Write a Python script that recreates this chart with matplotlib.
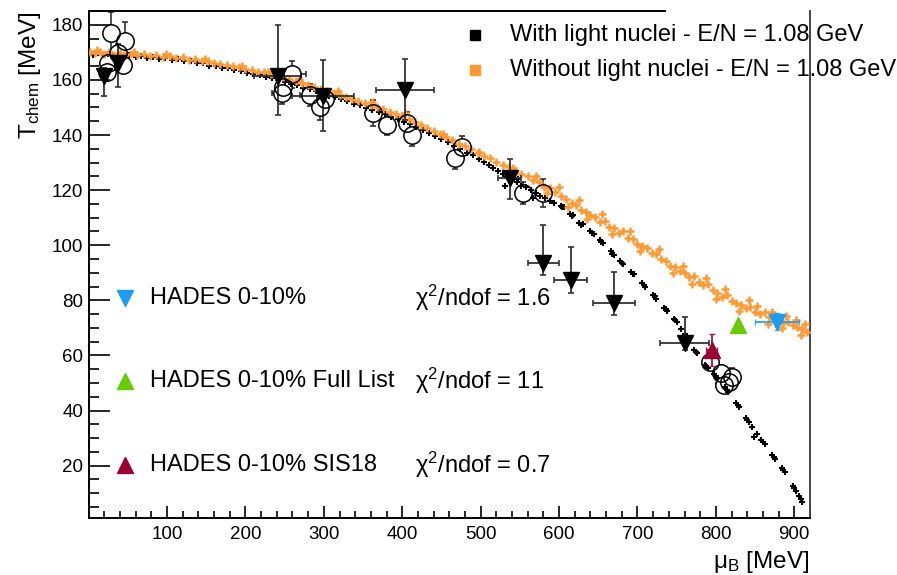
import matplotlib
matplotlib.use("Agg")
import matplotlib.pyplot as plt
from matplotlib.ticker import MultipleLocator

plt.rcParams["font.family"] = ["Liberation Sans", "DejaVu Sans"]
plt.rcParams["mathtext.fontset"] = "custom"
plt.rcParams["mathtext.rm"] = "Liberation Sans"
plt.rcParams["mathtext.it"] = "Liberation Sans:italic"

# freeze-out points without light nuclei (mu_B, T)
without_mu = [2, 8, 14, 20, 26, 33, 40, 47, 54, 62, 70, 78, 86, 95, 104, 112, 120, 128,
              136, 144, 152, 160, 168, 176, 184, 192, 200, 208, 216, 224, 232, 240, 248,
              256, 264, 272, 280, 288, 296, 304, 312, 320, 328, 336, 344, 352, 360, 368,
              376, 384, 392, 400, 408, 416, 424, 432, 440, 448, 456, 464, 472, 480, 488,
              496, 504, 512, 520, 528, 536, 544, 552, 560, 567, 574, 581, 588, 595, 602,
              609, 616, 622, 628, 634, 640, 646, 652, 658, 664, 670, 676, 682, 688, 694,
              700, 706, 712, 718, 724, 730, 736, 742, 748, 754, 760, 766, 772, 778, 784,
              790, 796, 802, 808, 814, 820, 826, 832, 838, 844, 850, 856, 862, 868, 874,
              880, 886, 892, 898, 904, 910, 916,
              570, 585, 600, 612, 625, 636, 655, 668, 690, 703, 727, 745, 758, 770, 788,
              800, 812, 829, 842, 853, 866, 872, 884, 890, 902, 908, 914,
              11, 58, 99, 148, 196, 229, 268, 318, 361, 404, 452, 498, 541]
without_T = [170.3, 169.6, 170.1, 169.4, 170.0, 169.2, 169.8, 169.1, 169.5, 168.9, 169.3,
             168.6, 169.0, 168.3, 168.7, 167.9, 168.2, 167.4, 167.6, 166.8, 166.9, 166.0,
             165.9, 165.3, 164.9, 164.6, 164.0, 163.6, 163.0, 162.7, 162.0, 161.4, 160.9,
             160.2, 159.5, 158.8, 158.1, 157.5, 156.6, 156.0, 155.2, 154.6, 153.8, 153.2,
             152.3, 151.7, 150.9, 150.2, 149.3, 148.5, 147.6, 146.8, 145.7, 144.9, 143.7,
             142.6, 141.6, 140.3, 139.2, 138.3, 136.9, 136.0, 134.9, 133.6, 132.4, 131.5,
             130.1, 129.0, 128.3, 126.9, 126.0, 125.2, 123.6, 122.9, 121.3, 120.6, 119.3,
             117.9, 116.9, 115.2, 114.6, 112.8, 112.2, 110.9, 110.1, 108.3, 108.9, 106.8,
             106.2, 104.6, 105.1, 102.8, 102.1, 100.6, 99.7, 98.9, 97.3, 96.8, 95.0, 94.4,
             92.6, 92.1, 90.8, 89.9, 88.4, 88.9, 86.7, 85.5, 85.9, 83.6, 82.8, 81.2, 81.9,
             79.7, 79.0, 78.2, 77.1, 77.6, 75.9, 75.0, 75.6, 73.9, 73.2, 72.8, 71.6, 72.3,
             70.9, 70.2, 69.5, 68.6,
             125.0, 118.8, 121.0, 114.0, 116.4, 109.6, 111.5, 103.9, 105.2, 97.8, 98.6,
             89.9, 92.6, 86.1, 88.0, 80.4, 84.1, 76.3, 80.0, 78.1, 71.5, 75.8, 69.9, 74.2,
             72.8, 67.3, 71.4,
             170.9, 170.0, 169.4, 167.7, 164.9, 163.0, 160.5, 156.1, 152.0, 147.9, 140.5,
             133.8, 128.0]

# freeze-out points with light nuclei (mu_B, T)
with_mu = [0, 6, 12, 18, 25, 31, 38, 45, 52, 60, 67, 74, 82, 90, 98, 106, 114, 122, 130,
           138, 146, 154, 162, 170, 178, 186, 194, 202, 210, 218, 226, 234, 242, 250, 258,
           266, 274, 282, 290, 298, 306, 314, 322, 330, 338, 346, 354, 362, 370, 378, 386,
           394, 402, 410, 418, 426, 434, 442, 450, 458, 466, 474, 482, 490,
           498, 504, 510, 516, 522, 528, 534, 540, 546, 552, 558, 564, 570, 576, 582, 588,
           594, 531, 548, 567,
           602, 604, 606, 614, 616, 618, 626, 628, 630, 640, 642, 644, 652, 654, 656, 666,
           668, 670, 678, 680, 682, 692, 694, 696, 706, 708, 710, 720, 722, 724, 734, 736,
           738, 746, 748, 750, 756, 760, 764, 772, 774, 776, 786, 788, 790, 798, 800, 802,
           812, 814, 816, 826, 828, 830, 838, 840, 842, 846, 848, 852, 858, 860, 862, 872,
           874, 876, 884, 886, 888, 898, 900, 902, 906, 908, 910]
with_T = [169.8, 169.2, 169.6, 168.9, 169.4, 168.7, 169.1, 168.5, 168.9, 168.3, 168.7,
          168.0, 168.4, 167.7, 168.0, 167.2, 167.5, 166.7, 166.8, 166.0, 166.1, 165.2,
          165.1, 164.4, 164.2, 163.5, 163.1, 162.6, 162.1, 161.7, 160.9, 160.6, 159.8,
          159.4, 158.6, 158.0, 157.2, 156.7, 155.8, 155.2, 154.3, 153.8, 152.9, 152.3,
          151.4, 150.8, 149.9, 149.2, 148.3, 147.6, 146.5, 145.9, 144.8, 144.0, 142.9,
          142.0, 140.6, 139.7, 138.4, 137.5, 136.0, 135.1, 133.6, 132.6,
          131.4, 130.2, 129.1, 128.0, 127.1, 125.7, 124.9, 123.8, 122.9, 121.6, 121.0,
          119.9, 118.9, 118.0, 117.2, 116.0, 115.2, 121.5, 124.2, 117.0,
          114.4, 113.7, 113.9, 111.2, 110.5, 110.9, 108.1, 107.4, 107.8, 105.2, 104.5,
          104.0, 101.8, 101.2, 100.9, 97.8, 97.0, 96.6, 94.2, 93.7, 93.1, 90.2, 89.6,
          89.4, 86.2, 85.6, 85.0, 81.9, 81.5, 80.6, 77.4, 76.8, 76.1, 73.4, 72.7, 72.1,
          69.6, 67.9, 66.5, 62.1, 61.4, 60.8, 56.7, 56.1, 55.6, 53.1, 52.4, 51.7, 48.4,
          47.6, 46.9, 42.6, 41.9, 41.3, 37.2, 36.4, 35.8, 34.0, 30.5, 31.6, 29.3, 28.5,
          27.7, 23.9, 23.0, 22.4, 19.0, 18.3, 17.6, 12.6, 11.8, 10.9, 8.9, 7.9, 6.9]

# measured freeze-out parameters: open circles
circ_mu = [29, 46, 37, 44, 25, 23, 246, 248, 259, 282, 295, 301,
           363, 380, 406, 412, 467, 476, 554, 579, 792, 807, 821, 810, 817]
circ_T = [177.0, 174.0, 169.7, 165.5, 166.0, 163.0, 155.2, 157.6, 162.0, 154.6, 150.0, 153.0,
          148.0, 143.7, 144.3, 140.0, 131.6, 135.8, 118.9, 118.9, 57.8, 53.5, 52.3, 49.3, 50.5]
circ_dmu = [0, 0, 3, 3, 3, 3, 12, 0, 18, 12, 4, 10,
            8, 8, 8, 8, 7, 7, 6, 6, 4, 8, 8, 10, 6]
circ_dT = [7.5, 7.0, 3.0, 3.0, 2.5, 3.0, 4.0, 3.0, 5.0, 4.0, 4.5, 3.0,
           4.8, 3.7, 4.0, 4.0, 4.0, 4.0, 4.0, 5.0, 3.0, 3.0, 3.0, 3.0, 3.0]

# measured freeze-out parameters: filled down triangles
tri_mu = [20, 38, 241, 299, 403, 537, 580, 615, 670, 760]
tri_T = [161.5, 166.0, 161.3, 154.0, 156.4, 124.4, 93.5, 87.4, 79.2, 64.4]
tri_dmu = [0, 0, 30, 40, 37, 15, 20, 21, 27, 31]
tri_dT_lo = [7.5, 8.5, 14.0, 12.5, 11.0, 7.5, 4.4, 4.8, 4.5, 2.4]
tri_dT_hi = [3.0, 7.0, 18.5, 13.3, 11.3, 6.8, 13.7, 11.8, 11.0, 9.7]

# HADES fits
hades_labels = ["HADES 0-10%", "HADES 0-10% Full List", "HADES 0-10% SIS18"]
hades_chi2 = ["1.6", "11", "0.7"]
hades_colors = ["#1E9BF2", "#66CC00", "#990033"]
hades_markers = ["v", "^", "^"]
hades_mu = [878, 828, 795]
hades_T = [72.3, 71.1, 62.0]
hades_dmu = [28, 0, 7]
hades_dT = [3.0, 0.0, 5.7]

legend_labels = ["With light nuclei - E/N = 1.08 GeV",
                 "Without light nuclei - E/N = 1.08 GeV"]
legend_colors = ["black", "#FF9933"]

fig = plt.figure(figsize=(8.97, 5.75), dpi=100)
ax = fig.add_axes([0.0988, 0.0991, 0.8042, 0.8817])

ax.plot(with_mu, with_T, "+", color="black", ms=5, mew=1.5, zorder=2)
ax.plot(without_mu, without_T, "+", color="#FF9933", ms=6, mew=1.8, zorder=3)

# error bars are hidden inside the open markers by a white fill underneath
ax.errorbar(circ_mu, circ_T, xerr=circ_dmu, yerr=circ_dT, fmt="none",
            ecolor="#222222", elinewidth=1.1, capsize=2.2, capthick=1.1, zorder=1)
ax.plot(circ_mu, circ_T, "o", mfc="white", mec="none", ms=12.5, zorder=1.5)
ax.plot(circ_mu, circ_T, "o", mfc="none", mec="black", ms=12.5, mew=1.1, zorder=5)

ax.errorbar(tri_mu, tri_T, xerr=tri_dmu, yerr=[tri_dT_lo, tri_dT_hi], fmt="none",
            ecolor="#333333", elinewidth=1.3, capsize=2.2, capthick=1.2, zorder=4)
ax.plot(tri_mu, tri_T, "v", color="black", ms=11, zorder=6)

for i in range(3):
    if hades_dmu[i] or hades_dT[i]:
        ax.errorbar(hades_mu[i], hades_T[i], xerr=hades_dmu[i], yerr=hades_dT[i],
                    fmt="none", ecolor=hades_colors[i], elinewidth=1.4, capsize=2.2,
                    alpha=0.85, zorder=6)
    ax.plot(hades_mu[i], hades_T[i], hades_markers[i], color=hades_colors[i],
            ms=11, zorder=7)

# labels for the HADES fits, lower left
for i in range(3):
    yy = 0.434 - i * 0.1645
    ax.plot(0.05, yy, hades_markers[i], color=hades_colors[i], ms=11,
            transform=ax.transAxes, clip_on=False)
    ax.text(0.085, yy, hades_labels[i], transform=ax.transAxes, fontsize=17,
            va="center", ha="left")
    ax.text(0.4525, yy, "χ$^{2}$/ndof = " + hades_chi2[i], transform=ax.transAxes,
            fontsize=17, va="center", ha="left")

# legend in the upper right
for i in range(2):
    yy = 1 - (35 + 35 * i) / 575
    fig.add_artist(plt.Line2D([475 / 897], [yy], marker="s", color=legend_colors[i],
                              ms=7, transform=fig.transFigure))
    fig.text(510 / 897, yy, legend_labels[i], fontsize=17, va="center", ha="left")

ax.set_xlim(0, 920)
ax.set_ylim(1, 185)
ax.xaxis.set_minor_locator(MultipleLocator(20))
ax.yaxis.set_minor_locator(MultipleLocator(5))
ax.set_xticks([100, 200, 300, 400, 500, 600, 700, 800, 900])
ax.set_yticks([20, 40, 60, 80, 100, 120, 140, 160, 180])

ax.tick_params(axis="x", which="major", direction="in", length=8.5, width=1.2,
               labelsize=13.5, pad=6)
ax.tick_params(axis="x", which="minor", direction="in", length=5, width=1.2)
ax.tick_params(axis="y", which="major", direction="in", length=15, width=1.2,
               labelsize=13.5, pad=4)
ax.tick_params(axis="y", which="minor", direction="in", length=7.5, width=1.2)

for s in ax.spines.values():
    s.set_linewidth(1.4)
ax.spines["top"].set_bounds(0, 735)
ax.spines["right"].set_color("#444444")

ax.set_xlabel("μ$_{\\rm B}$ [MeV]", fontsize=17.5, loc="right", labelpad=4)
ax.set_ylabel(r"T$_{\rm chem}$ [MeV]", fontsize=17.5, loc="top", labelpad=6)

fig.savefig("out.png", dpi=100)
